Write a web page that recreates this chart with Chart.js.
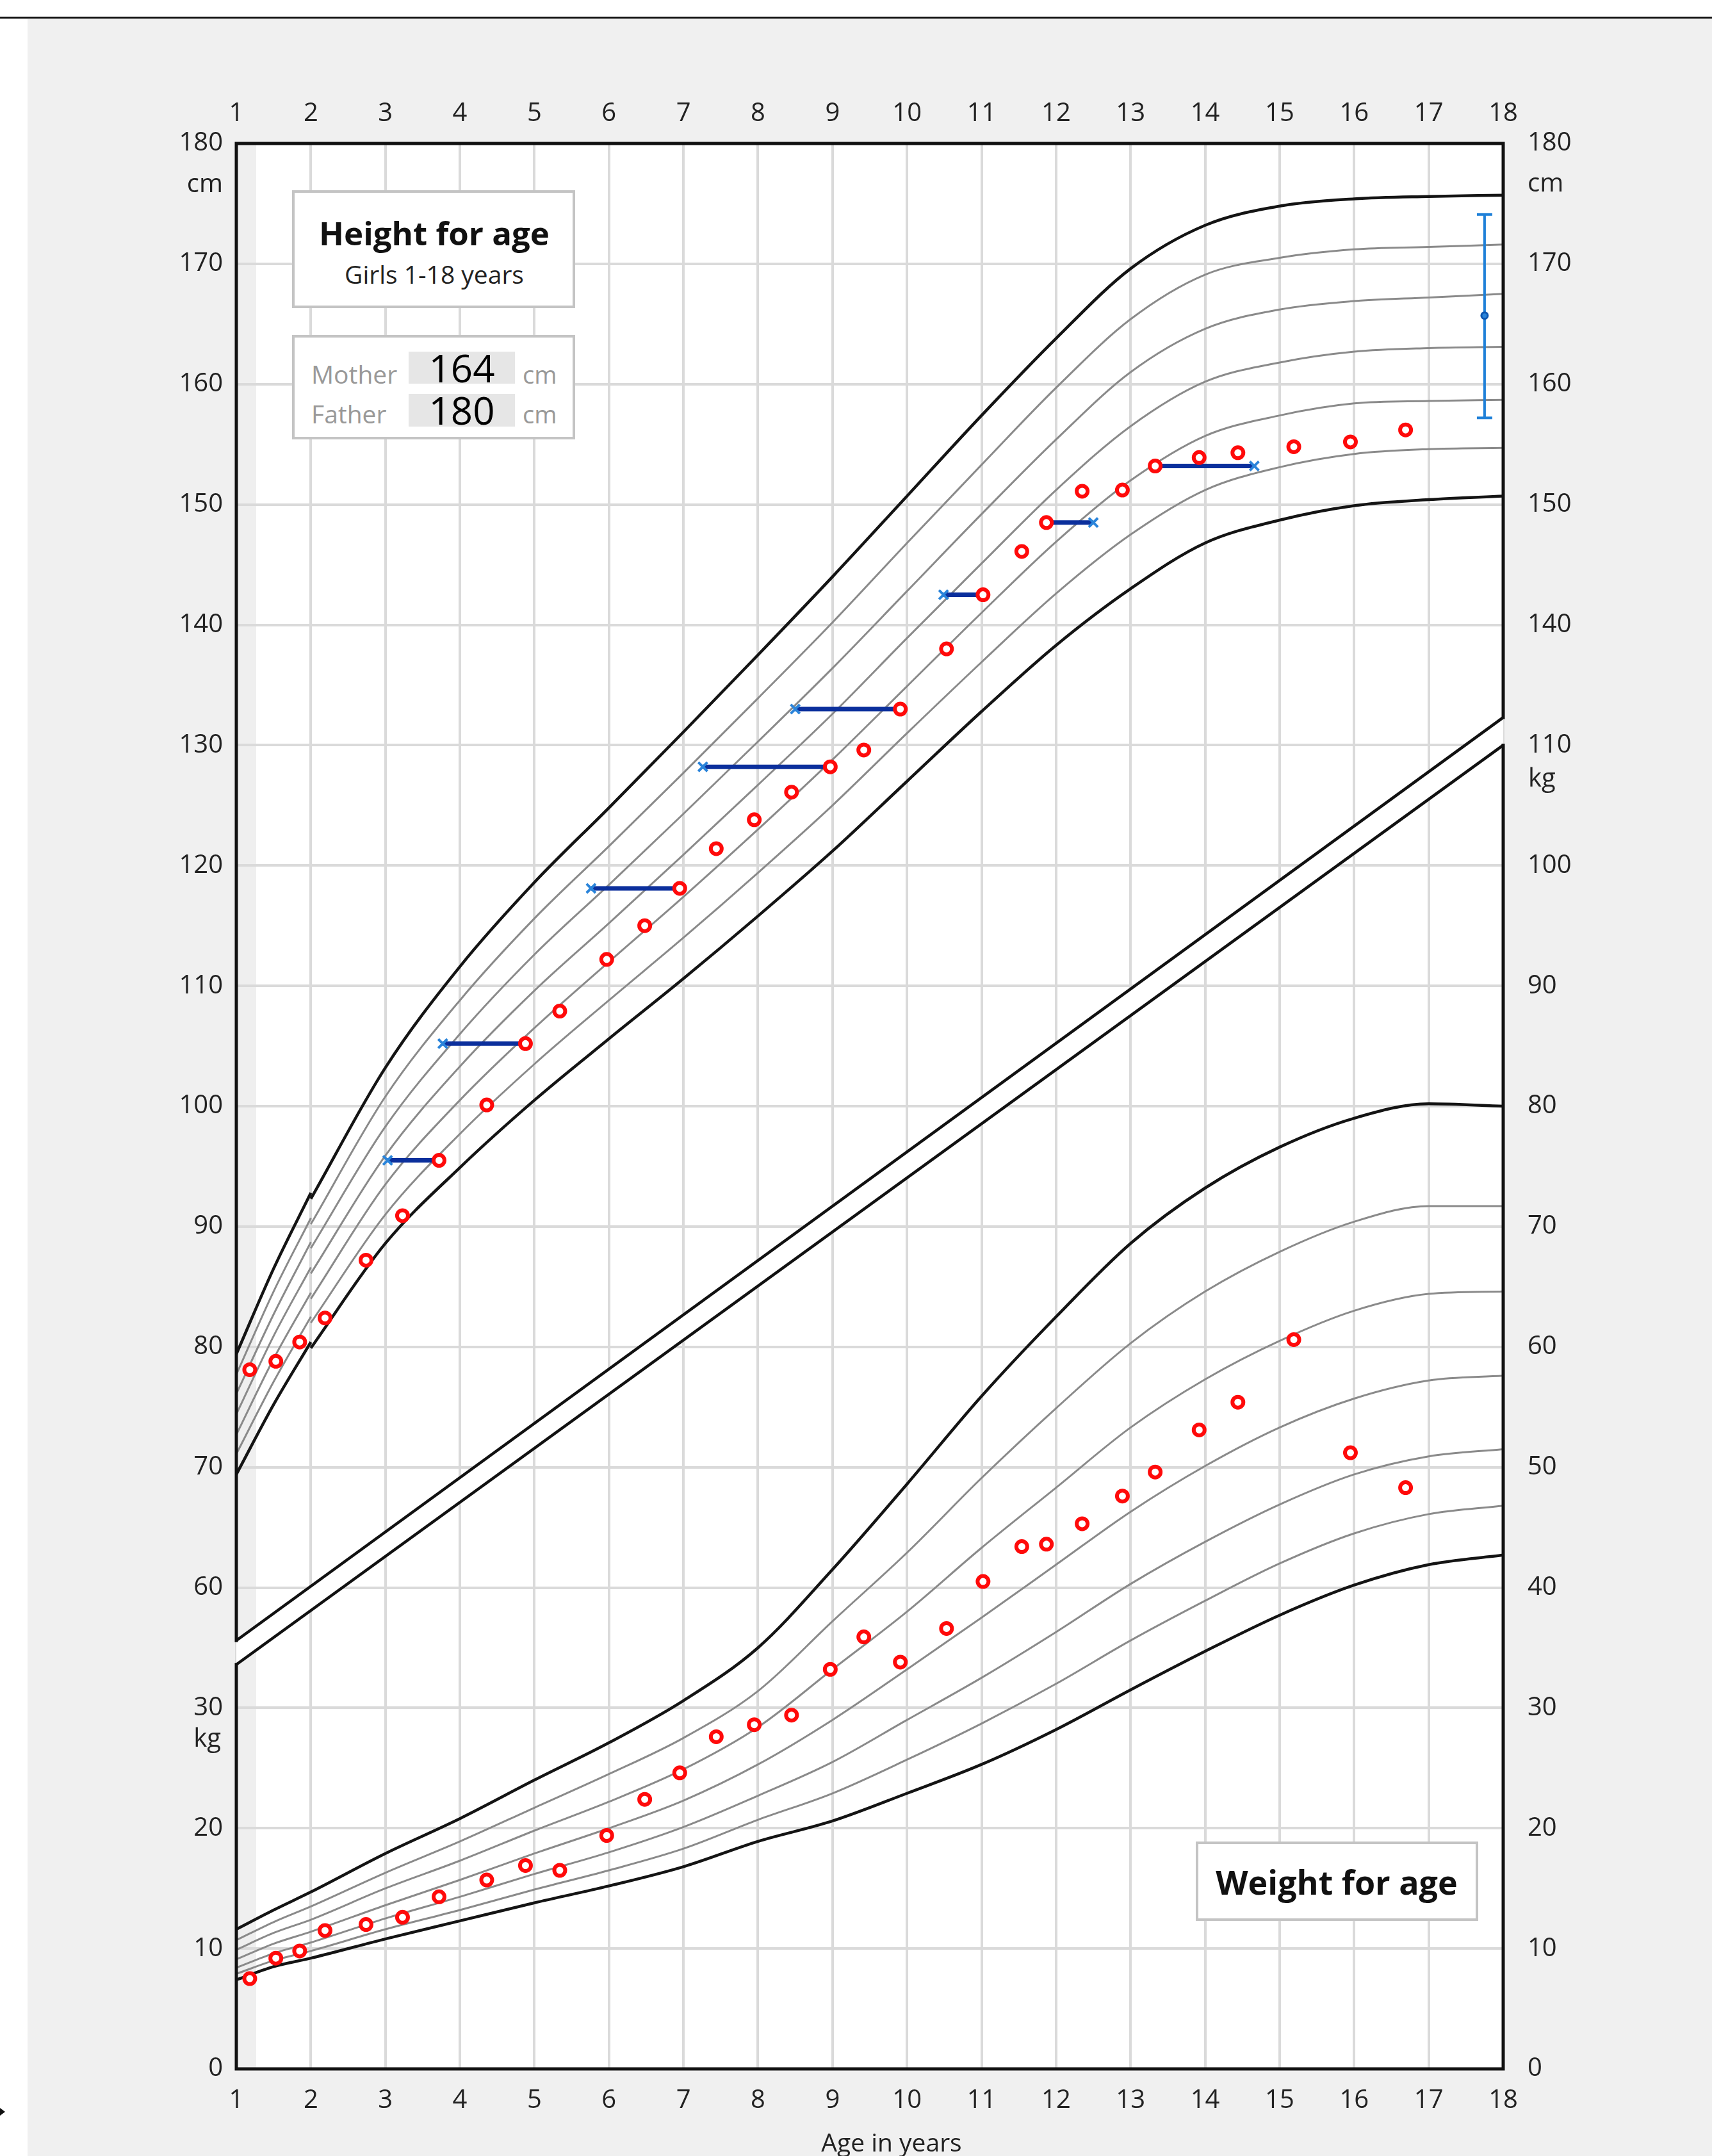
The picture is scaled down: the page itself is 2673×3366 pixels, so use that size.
<!DOCTYPE html>
<html>
<head>
<meta charset="utf-8">
<script src="https://cdn.jsdelivr.net/npm/chart.js@4.4.1/dist/chart.umd.min.js"></script>
<style>
  html, body { margin: 0; padding: 0; background: #fff; }
  #page { position: relative; width: 2673px; height: 3366px; overflow: hidden; font-family: "Open Sans", sans-serif; }
  #topline { position: absolute; left: 0; top: 26px; width: 2673px; height: 3px; background: #111; }
  #panel { position: absolute; left: 43px; top: 30px; right: 0; bottom: 0; background: #f0f0f0; }
  #mark { position: absolute; left: 0; top: 3291px; width: 0; height: 0; border-left: 8px solid #111; border-top: 6px solid transparent; border-bottom: 6px solid transparent; }
  #growthChart { position: absolute; left: 0; top: 0; }
  .box { position: absolute; background: #fff; border: 4px solid #c4c4c4; box-sizing: border-box; }
  .valbox { position: absolute; background: #e6e6e6; }
  .t { position: absolute; white-space: nowrap; line-height: 1; transform: translate(-50%, -50%); }
  .tl { position: absolute; white-space: nowrap; line-height: 1; transform: translate(0, -50%); }
  .tr { position: absolute; white-space: nowrap; line-height: 1; transform: translate(-100%, -50%); }
</style>
</head>
<body>
<div id="page">
  <div id="topline"></div>
  <div id="panel"></div>
  <div id="mark"></div>
  <canvas id="growthChart" width="2673" height="3366"></canvas>

  <div class="box" style="left:456px; top:297px; width:442px; height:184px;"></div>
  <div class="t" style="left:678px; top:363px; font-size:51px; font-weight:700; color:#111;">Height for age</div>
  <div class="t" style="left:678px; top:427px; font-size:39px; color:#222;">Girls 1-18 years</div>

  <div class="box" style="left:456px; top:523px; width:442px; height:163px;"></div>
  <div class="valbox" style="left:638px; top:549px; width:166px; height:50px;"></div>
  <div class="valbox" style="left:638px; top:615px; width:166px; height:51px;"></div>
  <div class="tl" style="left:486px; top:583px; font-size:39px; color:#999;">Mother</div>
  <div class="t" style="left:721px; top:574px; font-size:60px; color:#000;">164</div>
  <div class="tl" style="left:816px; top:584px; font-size:38px; color:#999;">cm</div>
  <div class="tl" style="left:486px; top:645px; font-size:39px; color:#999;">Father</div>
  <div class="t" style="left:721px; top:640px; font-size:60px; color:#000;">180</div>
  <div class="tl" style="left:816px; top:646px; font-size:38px; color:#999;">cm</div>

  <div class="box" style="left:1867px; top:2875px; width:441px; height:124px;"></div>
  <div class="t" style="left:2087px; top:2938px; font-size:52px; font-weight:700; color:#111;">Weight for age</div>

  <div class="tr" style="left:348px; top:285px; font-size:40px; color:#222;">cm</div>
  <div class="tl" style="left:2385px; top:284px; font-size:40px; color:#222;">cm</div>
  <div class="tr" style="left:345px; top:2712px; font-size:40px; color:#222;">kg</div>
  <div class="tl" style="left:2386px; top:1213px; font-size:40px; color:#222;">kg</div>
  <div class="t" style="left:1392px; top:3343px; font-size:39px; color:#222;">Age in years</div>
</div>

<script>
// ---- axis ticks / labels ----
const ageTicks = [1, 2, 3, 4, 5, 6, 7, 8, 9, 10, 11, 12, 13, 14, 15, 16, 17, 18];
const heightTicks = [20, 30, 40, 50, 60, 70, 80, 90, 100, 110, 120, 130, 140, 150, 160, 170, 180];
const weightTicks = [0, 10, 20, 30, 40, 50, 60, 70, 80, 90, 100, 110, 120, 130, 140, 150, 160];
const leftLabels = ['0', '10', '20', '30', '60', '70', '80', '90', '100', '110', '120', '130', '140', '150', '160', '170', '180'];
const rightLabels = ['0', '10', '20', '30', '40', '50', '60', '70', '80', '90', '100', '110', '140', '150', '160', '170', '180'];

// ---- measurements ----
const visitAges = [1.18, 1.53, 1.85, 2.19, 2.74, 3.23, 3.72, 4.36, 4.88, 5.34, 5.97, 6.48, 6.95, 7.44, 7.95, 8.45,
  8.97, 9.42, 9.91, 10.53, 11.02, 11.54, 11.87, 12.35, 12.89, 13.33, 13.92, 14.44, 15.19, 15.95, 16.69];
const heightCm = [78.1, 78.8, 80.4, 82.4, 87.2, 90.9, 95.5, 100.1, 105.2, 107.9, 112.2, 115.0, 118.1, 121.4, 123.8, 126.1,
  128.2, 129.6, 133.0, 138.0, 142.5, 146.1, 148.5, 151.1, 151.2, 153.2, 153.9, 154.3, 154.8, 155.2, 156.2];
const weightKg = [7.5, 9.2, 9.8, 11.5, 12.0, 12.6, 14.3, 15.7, 16.9, 16.5, 19.4, 22.4, 24.6, 27.6, 28.6, 29.4,
  33.2, 35.9, 33.8, 36.6, 40.5, 43.4, 43.6, 45.3, 47.6, 49.6, 53.1, 55.4, 60.6, 51.2, 48.3];

// bone age readings, paired with the visit they belong to
const boneAges = [3.03, 3.77, 5.76, 7.26, 8.50, 10.49, 12.50, 14.66];
const boneVisit = [6, 8, 12, 16, 18, 20, 22, 25];

// target height (mid-parental) with range
const targetAge = 17.75;
const targetHeight = 165.7;
const targetRange = [157.2, 174.1];

// ---- reference curves, -3 .. +3 SD ----
const lengthAges = [1, 1.5, 2];
const lengthLines = [
  [69.4, 75.2, 80.4],
  [71.1, 77.1, 82.5],
  [72.7, 79.0, 84.5],
  [74.4, 80.9, 86.6],
  [76.1, 82.7, 88.7],
  [77.7, 84.6, 90.7],
  [79.4, 86.5, 92.8]
];
const heightAges = [2, 3, 4, 5, 6, 7, 8, 9, 10, 11, 12, 13, 14, 15, 16, 17, 18];
const heightLines = [
  [79.9, 88.6, 94.9, 100.5, 105.6, 110.6, 115.8, 121.2, 127.0, 132.8, 138.3, 143.0, 146.8, 148.7, 149.9, 150.4, 150.7],
  [82.0, 91.0, 97.7, 103.5, 108.8, 114.0, 119.4, 125.0, 131.0, 136.9, 142.6, 147.5, 151.2, 153.1, 154.2, 154.6, 154.7],
  [84.0, 93.5, 100.5, 106.5, 112.0, 117.4, 123.0, 128.8, 134.9, 141.0, 146.9, 152.0, 155.7, 157.4, 158.4, 158.6, 158.7],
  [86.1, 95.9, 103.3, 109.6, 115.2, 120.9, 126.7, 132.6, 138.9, 145.1, 151.2, 156.5, 160.2, 161.8, 162.7, 163.0, 163.1],
  [88.2, 98.3, 106.0, 112.6, 118.4, 124.3, 130.3, 136.4, 142.8, 149.2, 155.4, 161.0, 164.6, 166.2, 166.9, 167.2, 167.5],
  [90.2, 100.8, 108.8, 115.6, 121.6, 127.7, 133.9, 140.2, 146.8, 153.3, 159.7, 165.4, 169.1, 170.5, 171.2, 171.4, 171.6],
  [92.3, 103.2, 111.6, 118.6, 124.8, 131.1, 137.5, 144.0, 150.7, 157.4, 163.8, 169.6, 173.2, 174.8, 175.4, 175.6, 175.7]
];
const weightAges = [1, 1.5, 2, 3, 4, 5, 6, 7, 8, 9, 10, 11, 12, 13, 14, 15, 16, 17, 18];
const weightLines = [
  [7.4, 8.5, 9.2, 10.8, 12.3, 13.8, 15.2, 16.8, 18.9, 20.6, 22.9, 25.3, 28.2, 31.5, 34.7, 37.7, 40.2, 41.9, 42.7],
  [7.9, 9.0, 9.8, 11.6, 13.2, 14.9, 16.5, 18.3, 20.7, 22.9, 25.7, 28.7, 32.0, 35.6, 38.9, 42.0, 44.5, 46.1, 46.8],
  [8.4, 9.6, 10.5, 12.5, 14.3, 16.2, 18.0, 20.1, 22.7, 25.5, 29.0, 32.5, 36.3, 40.3, 43.8, 46.9, 49.4, 50.9, 51.5],
  [9.1, 10.4, 11.4, 13.6, 15.7, 17.9, 20.0, 22.3, 25.3, 29.0, 33.2, 37.5, 41.9, 46.3, 50.1, 53.3, 55.7, 57.2, 57.6],
  [9.9, 11.3, 12.4, 15.0, 17.3, 19.8, 22.2, 24.9, 28.4, 33.2, 38.0, 43.3, 48.3, 53.3, 57.3, 60.5, 63.0, 64.4, 64.6],
  [10.7, 12.2, 13.5, 16.3, 18.9, 21.7, 24.5, 27.5, 31.4, 37.2, 42.9, 49.1, 54.9, 60.3, 64.6, 67.9, 70.4, 71.7, 71.7],
  [11.6, 13.2, 14.7, 17.9, 20.8, 24.0, 27.1, 30.6, 35.0, 41.5, 48.6, 55.9, 62.5, 68.6, 73.2, 76.6, 79.0, 80.2, 80.0]
];

// the break between the height part and the weight part (height axis units)
const breakAges = [1, 18];
const breakUpper = [55.6, 132.3];
const breakLower = [53.6, 130.0];

// ---- helpers ----
function toPoints(xs, ys) {
  return xs.map((x, i) => ({ x: x, y: ys[i] }));
}

function curve(xs, ys, i, axis) {
  const outer = i === 0 || i === 6;
  return {
    data: toPoints(xs, ys),
    yAxisID: axis,
    showLine: true,
    borderColor: outer ? '#141414' : '#8a8a8a',
    borderWidth: outer ? 4.5 : 3,
    pointRadius: 0,
    cubicInterpolationMode: 'monotone'
  };
}

const redDots = {
  showLine: false,
  pointRadius: 8.5,
  pointBorderWidth: 6,
  pointBorderColor: '#ff0a0a',
  pointBackgroundColor: '#ffffff'
};

const datasets = [];
datasets.push(Object.assign({ data: toPoints(visitAges, heightCm), yAxisID: 'y' }, redDots));
datasets.push(Object.assign({ data: toPoints(visitAges, weightKg), yAxisID: 'yw' }, redDots));

boneAges.forEach((b, i) => {
  const k = boneVisit[i];
  datasets.push({
    data: [{ x: b, y: heightCm[k] }, { x: visitAges[k], y: heightCm[k] }],
    yAxisID: 'y',
    showLine: true,
    borderColor: '#0b2f9c',
    borderWidth: 7,
    pointStyle: 'crossRot',
    pointRadius: [10, 0],
    pointBorderWidth: 4,
    pointBorderColor: '#2a84da'
  });
});

datasets.push({
  data: [{ x: targetAge, y: targetHeight }],
  yAxisID: 'y',
  showLine: false,
  pointRadius: 5,
  pointBorderWidth: 3,
  pointBorderColor: '#0d56b0',
  pointBackgroundColor: '#2a84da'
});
datasets.push({
  data: [{ x: targetAge, y: targetRange[0] }, { x: targetAge, y: targetRange[1] }],
  yAxisID: 'y',
  showLine: true,
  borderColor: '#1f80d8',
  borderWidth: 4,
  pointStyle: 'line',
  pointRadius: 12,
  pointBorderWidth: 4,
  pointBorderColor: '#1f80d8'
});

lengthLines.forEach((row, i) => datasets.push(curve(lengthAges, row, i, 'y')));
heightLines.forEach((row, i) => datasets.push(curve(heightAges, row, i, 'y')));
weightLines.forEach((row, i) => datasets.push(curve(weightAges, row, i, 'yw')));

[breakUpper, breakLower].forEach(row => {
  datasets.push({
    data: toPoints(breakAges, row),
    yAxisID: 'y',
    showLine: true,
    borderColor: '#111',
    borderWidth: 4.5,
    pointRadius: 0
  });
});

// white plot background, gray first strip, the break band, and the frame
const framePlugin = {
  id: 'frame',
  beforeDraw(chart) {
    const { ctx, chartArea: a } = chart;
    ctx.save();
    ctx.fillStyle = '#ffffff';
    ctx.fillRect(a.left, a.top, a.right - a.left, a.bottom - a.top);
    ctx.fillStyle = '#efefef';
    ctx.fillRect(a.left, a.top, 31, a.bottom - a.top);
    ctx.restore();
  },
  beforeDatasetsDraw(chart) {
    const { ctx, scales } = chart;
    const x = scales.x, y = scales.y;
    ctx.save();
    ctx.fillStyle = '#ffffff';
    ctx.beginPath();
    ctx.moveTo(x.getPixelForValue(breakAges[0]), y.getPixelForValue(breakUpper[0]));
    ctx.lineTo(x.getPixelForValue(breakAges[1]), y.getPixelForValue(breakUpper[1]));
    ctx.lineTo(x.getPixelForValue(breakAges[1]), y.getPixelForValue(breakLower[1]));
    ctx.lineTo(x.getPixelForValue(breakAges[0]), y.getPixelForValue(breakLower[0]));
    ctx.closePath();
    ctx.fill();
    ctx.restore();
  },
  afterDatasetsDraw(chart) {
    const { ctx, chartArea: a, scales } = chart;
    const y = scales.y;
    ctx.save();
    ctx.strokeStyle = '#111';
    ctx.lineWidth = 5;
    ctx.lineCap = 'square';
    ctx.beginPath();
    ctx.moveTo(a.left, a.top); ctx.lineTo(a.right, a.top);
    ctx.moveTo(a.left, a.bottom); ctx.lineTo(a.right, a.bottom);
    ctx.moveTo(a.left, a.top); ctx.lineTo(a.left, y.getPixelForValue(breakUpper[0]));
    ctx.moveTo(a.left, y.getPixelForValue(breakLower[0])); ctx.lineTo(a.left, a.bottom);
    ctx.moveTo(a.right, a.top); ctx.lineTo(a.right, y.getPixelForValue(breakUpper[1]));
    ctx.moveTo(a.right, y.getPixelForValue(breakLower[1])); ctx.lineTo(a.right, a.bottom);
    ctx.stroke();
    ctx.restore();
  }
};

Chart.defaults.font.family = '"Open Sans", sans-serif';
Chart.defaults.color = '#222';

const tickFont = { size: 40 };
const gridStyle = { color: '#dadada', lineWidth: 4, drawTicks: false };

new Chart(document.getElementById('growthChart').getContext('2d'), {
  type: 'scatter',
  data: { datasets: datasets },
  plugins: [framePlugin],
  options: {
    responsive: false,
    animation: false,
    layout: { padding: 0 },
    plugins: { legend: { display: false }, tooltip: { enabled: false } },
    scales: {
      x: {
        type: 'linear', position: 'bottom', min: 1, max: 18,
        afterBuildTicks: s => { s.ticks = ageTicks.map(v => ({ value: v })); },
        afterFit: s => { s.height = 136; },
        grid: gridStyle,
        border: { display: false },
        ticks: { font: tickFont, padding: 26, maxRotation: 0, autoSkip: false }
      },
      xTop: {
        type: 'linear', position: 'top', min: 1, max: 18,
        afterBuildTicks: s => { s.ticks = ageTicks.map(v => ({ value: v })); },
        afterFit: s => { s.height = 224; },
        grid: { display: false, drawTicks: false },
        border: { display: false },
        ticks: { font: tickFont, padding: 22, maxRotation: 0, autoSkip: false }
      },
      y: {
        type: 'linear', position: 'left', min: 20, max: 180,
        afterBuildTicks: s => { s.ticks = heightTicks.map(v => ({ value: v })); },
        afterFit: s => { s.width = 369; },
        grid: gridStyle,
        border: { display: false },
        ticks: { font: tickFont, padding: 21, autoSkip: false, callback: (v, i) => leftLabels[i] }
      },
      yw: {
        type: 'linear', position: 'right', min: 0, max: 160,
        afterBuildTicks: s => { s.ticks = weightTicks.map(v => ({ value: v })); },
        afterFit: s => { s.width = 326; },
        grid: { display: false, drawTicks: false },
        border: { display: false },
        ticks: { font: tickFont, padding: 38, autoSkip: false, callback: (v, i) => rightLabels[i] }
      }
    }
  }
});
</script>
</body>
</html>
